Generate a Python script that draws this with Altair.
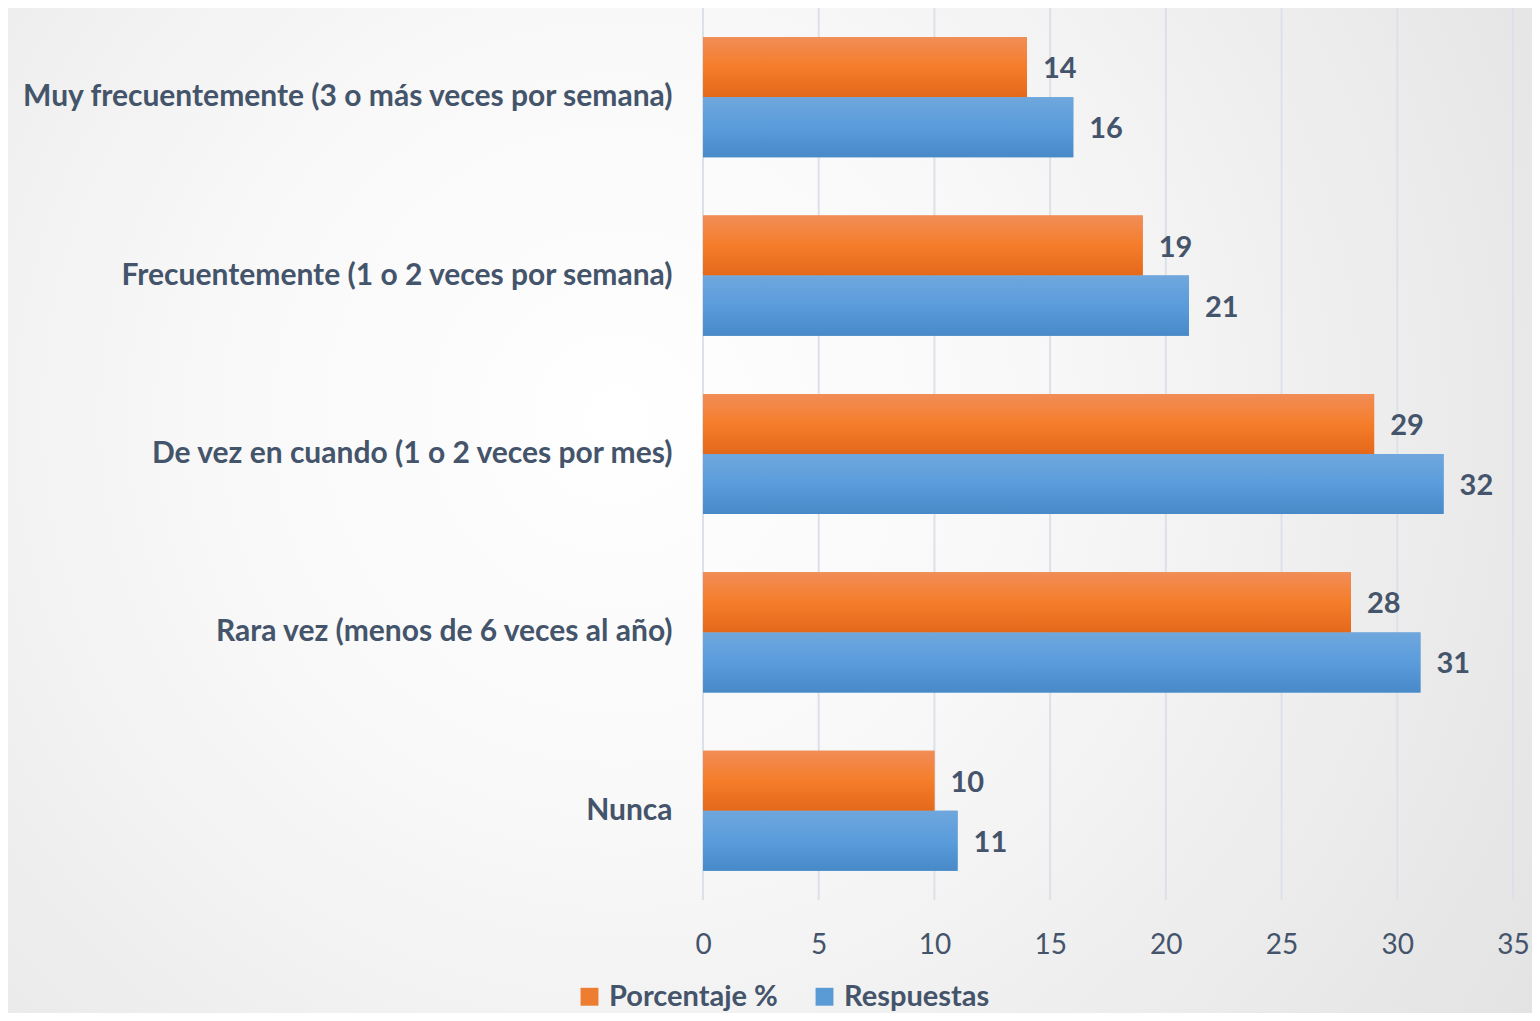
import altair as alt
import pandas as pd

categories = [
    "Muy frecuentemente (3 o más veces por semana)",
    "Frecuentemente (1 o 2 veces por semana)",
    "De vez en cuando (1 o 2 veces por mes)",
    "Rara vez (menos de 6 veces al año)",
    "Nunca",
]
series_names = ["Porcentaje %", "Respuestas"]
porcentaje = [14, 19, 29, 28, 10]
respuestas = [16, 21, 32, 31, 11]
x_ticks = [0, 5, 10, 15, 20, 25, 30, 35]

rows = []
for c, p, r in zip(categories, porcentaje, respuestas):
    rows.append({"cat": c, "serie": series_names[0], "valor": p})
    rows.append({"cat": c, "serie": series_names[1], "valor": r})
df = pd.DataFrame(rows)
ticks_df = pd.DataFrame({"t": x_ticks})

FONT = "Lato"
TXT = "#44546A"
ORANGE = "#ED7D31"
BLUE = "#5B9BD5"

W, H = 810, 892

orange_grad = alt.Gradient(
    gradient="linear", x1=0, y1=0, x2=0, y2=1,
    stops=[alt.GradientStop(offset=0, color="#F18D57"),
           alt.GradientStop(offset=0.5, color="#F57D2A"),
           alt.GradientStop(offset=1, color="#E4681A")])
blue_grad = alt.Gradient(
    gradient="linear", x1=0, y1=0, x2=0, y2=1,
    stops=[alt.GradientStop(offset=0, color="#6FA7DD"),
           alt.GradientStop(offset=0.5, color="#5A9CDC"),
           alt.GradientStop(offset=1, color="#4889C8")])
bg_grad = alt.Gradient(
    gradient="radial", x1=0.40, y1=0.44, r1=0, x2=0.40, y2=0.44, r2=0.78,
    stops=[alt.GradientStop(offset=0, color="#FFFFFF"),
           alt.GradientStop(offset=0.35, color="#F8F8F8"),
           alt.GradientStop(offset=1, color="#E0E0E0")])

xscale = alt.Scale(domain=[0, 35], nice=False)

y_enc = alt.Y(
    "cat:N", sort=categories, title=None,
    scale=alt.Scale(paddingInner=0.327, paddingOuter=0.1635),
    axis=alt.Axis(ticks=False, domain=False, labelPadding=31, labelLimit=800,
                  labelFont=FONT, labelFontSize=30, labelFontWeight="bold",
                  labelColor=TXT, grid=False, zindex=1),
)
yoff = alt.YOffset("serie:N", sort=series_names, scale=alt.Scale(paddingInner=0, paddingOuter=0))
x_enc = alt.X(
    "valor:Q", title=None, scale=xscale,
    axis=alt.Axis(values=x_ticks, ticks=False, domain=False, labelPadding=31,
                  labelFlush=False, labelFont=FONT, labelFontSize=28, labelColor=TXT,
                  grid=False, zindex=1),
)

background = alt.Chart(alt.Data(values=[{"a": 1}])).mark_rect(
    fill=bg_grad, strokeWidth=0
).encode(
    x=alt.value(-695), x2=alt.value(829), y=alt.value(0), y2=alt.value(1005)
)

grid = alt.Chart(ticks_df).mark_rule(color="#DCE1E8", strokeWidth=2).encode(
    x=alt.X("t:Q", scale=xscale), y=alt.value(0), y2=alt.value(H)
)

base = alt.Chart(df)

bars = base.mark_bar().encode(
    x=x_enc, y=y_enc, yOffset=yoff,
    color=alt.Color("serie:N", sort=series_names,
                    scale=alt.Scale(domain=series_names, range=[ORANGE, BLUE]),
                    legend=alt.Legend(
                        title=None, orient="none", direction="horizontal",
                        legendX=-128, legendY=974,
                        symbolType="square", symbolSize=320, symbolStrokeWidth=0,
                        labelFont=FONT, labelFontSize=29, labelFontWeight="bold",
                        labelColor=TXT, labelLimit=400, columnPadding=32,
                        labelOffset=5)),
)

bars_o = base.transform_filter(alt.datum.serie == series_names[0]).mark_bar(
    fill=orange_grad).encode(x="valor:Q", y=alt.Y("cat:N", sort=categories), yOffset=yoff)
bars_b = base.transform_filter(alt.datum.serie == series_names[1]).mark_bar(
    fill=blue_grad).encode(x="valor:Q", y=alt.Y("cat:N", sort=categories), yOffset=yoff)

labels = base.mark_text(
    align="left", baseline="middle", dx=16, dy=2, font=FONT, fontSize=29,
    fontWeight="bold", color=TXT
).encode(x="valor:Q", y=alt.Y("cat:N", sort=categories), yOffset=yoff, text="valor:Q")

chart = alt.layer(background, grid, bars, bars_o, bars_b, labels).properties(
    width=W, height=H,
    autosize=alt.AutoSizeParams(type="none"),
    padding={"left": 695, "top": 0, "right": 19, "bottom": 113},
    background="#E6E6E6",
).configure_view(stroke=None)

chart.save("out.html", embed_options={"renderer": "svg", "actions": False})
